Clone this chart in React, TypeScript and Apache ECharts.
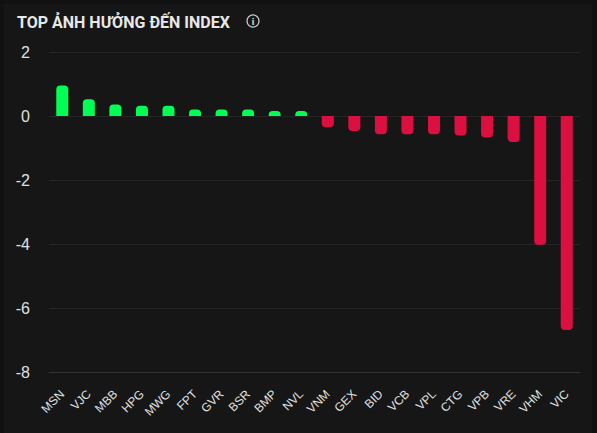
import React, { useEffect, useRef } from "react";
import * as echarts from "echarts";

const categories = ["MSN", "VJC", "MBB", "HPG", "MWG", "FPT", "GVR", "BSR", "BMP", "NVL", "VNM", "GEX", "BID", "VCB", "VPL", "CTG", "VPB", "VRE", "VHM", "VIC"];
const impactValues = [0.95, 0.52, 0.36, 0.32, 0.32, 0.2, 0.2, 0.2, 0.16, 0.16, -0.35, -0.47, -0.57, -0.57, -0.57, -0.61, -0.67, -0.81, -4.02, -6.69];
const yMin = -8;
const yMax = 2;
const yInterval = 2;
const titleText = "TOP ẢNH HƯỞNG ĐẾN INDEX";

const GREEN = "#00ff55";
const RED = "#dc1040";

export default function App() {
  const ref = useRef<HTMLDivElement>(null);
  useEffect(() => {
    if (!ref.current) return;
    const chart = echarts.init(ref.current, null, { renderer: "svg" });
    chart.setOption({
      animation: false,
      backgroundColor: "#161616",
      title: {
        text: titleText,
        left: 8,
        top: 5,
        textStyle: { color: "#e8e8e8", fontSize: 16, fontWeight: "bold", fontFamily: "Roboto" },
      },
      graphic: [
        { type: "circle", shape: { cx: 249, cy: 17, r: 6 }, style: { fill: "none", stroke: "#c8c8c8", lineWidth: 1.2 } },
        { type: "text", x: 249, y: 17.5, style: { text: "i", fill: "#c8c8c8", font: "bold 9px 'DejaVu Sans'", align: "center", verticalAlign: "middle" } },
      ],
      grid: { left: 45, right: 12, top: 48, bottom: 61 },
      xAxis: {
        type: "category",
        data: categories,
        position: "bottom",
        axisLine: { onZero: false, lineStyle: { color: "#333333" } },
        axisTick: { show: false },
        axisLabel: { rotate: 45, color: "#e0e0e0", fontSize: 12, margin: 20, interval: 0, fontFamily: "Liberation Sans" },
        splitLine: { show: false },
      },
      yAxis: {
        type: "value",
        min: yMin,
        max: yMax,
        interval: yInterval,
        axisLine: { show: false },
        axisTick: { show: false },
        axisLabel: { color: "#e0e0e0", fontSize: 16, margin: 19, fontFamily: "Liberation Sans" },
        splitLine: { lineStyle: { color: "#262626", width: 1 } },
      },
      series: [
        {
          type: "bar",
          barWidth: 12,
          data: impactValues.map((v) => ({
            value: v,
            itemStyle: {
              color: v >= 0 ? GREEN : RED,
              borderRadius: v >= 0 ? [4, 4, 0, 0] : [0, 0, 4, 4],
            },
          })),
        },
      ],
    });
    return () => chart.dispose();
  }, []);
  return (
    <div style={{ position: "absolute", left: 0, top: 0, width: 597, height: 433, background: "#111111" }}>
      <div ref={ref} style={{ position: "absolute", left: 4, top: 4, width: 588, height: 429 }} />
    </div>
  );
}
